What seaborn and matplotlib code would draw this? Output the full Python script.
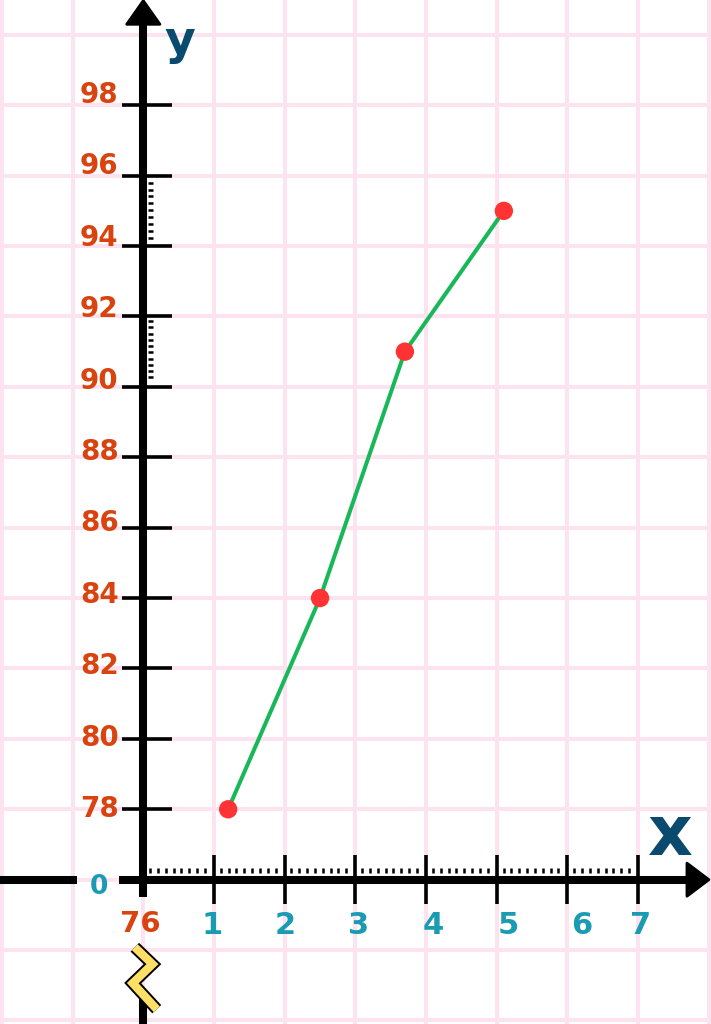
import numpy as np
import pandas as pd
import matplotlib.pyplot as plt
import seaborn as sns
from matplotlib.patches import Polygon

# data
x_vals = [1.2, 2.5, 3.7, 5.1]
y_vals = [78, 84, 91, 95]
x_ticks = [1, 2, 3, 4, 5, 6, 7]
y_ticks = [78, 80, 82, 84, 86, 88, 90, 92, 94, 96, 98]
x_tick_labels = [str(t) for t in x_ticks]
y_tick_labels = [str(t) for t in y_ticks]
origin_x_label = "0"
origin_y_label = "76"
y_origin = 76

df = pd.DataFrame({"x": x_vals, "y": y_vals})

# colours
GRID = "#fde2f0"
RED_TXT = "#d8430f"
TEAL = "#1b9bb3"
NAVY = "#0a4a6e"
GREEN = "#18b85a"
DOT = "#ff3333"
YELLOW = "#ffdf66"

sns.set_theme(style="white")
plt.rcParams["font.family"] = ["DejaVu Sans"]

fig = plt.figure(figsize=(7.11, 10.24), dpi=100)
fig.patch.set_facecolor("white")
ax = fig.add_axes([0, 0, 1, 1])
ax.set_xlim(-2.027, 8.03)
ax.set_ylim(71.9, 100.99)
ax.axis("off")

# pink graph-paper grid
for gx in range(-2, 9):
    ax.axvline(gx, color=GRID, lw=2.8, zorder=0)
for gy in range(72, 101, 2):
    ax.axhline(gy, color=GRID, lw=2.8, zorder=0)

# axes with a break below the origin
axis_kw = dict(color="black", lw=5.8, solid_capstyle="butt", zorder=3)
ax.plot([0, 0], [75.5, 100.35], **axis_kw)
ax.plot([0, 0], [71.8, 72.6], **axis_kw)
ax.plot([-2.1, -0.94], [y_origin, y_origin], **axis_kw)
ax.plot([-0.34, 7.72], [y_origin, y_origin], **axis_kw)
ax.add_patch(Polygon([(-0.235, 100.3), (0, 100.97), (0.235, 100.3)],
                     closed=True, fc="black", ec="black", lw=2, joinstyle="round", zorder=3))
ax.add_patch(Polygon([(7.69, 76.47), (8.0, 76), (7.69, 75.53)],
                     closed=True, fc="black", ec="black", lw=2, joinstyle="round", zorder=3))

# tick marks
ax.hlines(y_ticks, -0.30, 0.41, color="black", lw=2.6, zorder=3)
ax.vlines(x_ticks, 75.3, 76.7, color="black", lw=2.6, zorder=3)

# small dotted ticks
ax.hlines(np.linspace(94.24, 95.8, 9), 0.065, 0.14, color="black", lw=1.8, zorder=3)
ax.hlines(np.linspace(90.27, 91.87, 10), 0.065, 0.14, color="black", lw=1.8, zorder=3)
dot_x = np.concatenate([i + 0.095 + 0.111 * np.arange(8) for i in range(7)])
ax.vlines(dot_x, 76.19, 76.33, color="black", lw=1.8, zorder=3)

# zigzag break symbol
zz_x = [-0.12, 0.13, -0.15, 0.19]
zz_y = [74.08, 73.6, 73.06, 72.32]
ax.plot(zz_x, zz_y, color="black", lw=8.8, solid_joinstyle="miter",
        solid_capstyle="butt", zorder=4)
ax.plot(zz_x, zz_y, color=YELLOW, lw=6.0, solid_joinstyle="miter",
        solid_capstyle="butt", zorder=4)

# data
sns.lineplot(data=df, x="x", y="y", color=GREEN, lw=2.9, ax=ax, zorder=5)
sns.scatterplot(data=df, x="x", y="y", color=DOT, s=175, edgecolor="none",
                ax=ax, zorder=6)
ax.axis("off")

# tick labels
for t, lab in zip(y_ticks, y_tick_labels):
    ax.text(-0.35, t + 0.3 * (t - 78) / 20, lab, ha="right", va="center",
            fontsize=20, fontweight="bold", color=RED_TXT, zorder=7)
x_nudge = [-0.02, 0.0, 0.04, 0.1, 0.16, 0.2, 0.04]
for t, lab, dx in zip(x_ticks, x_tick_labels, x_nudge):
    ax.text(t + dx, 74.7, lab, ha="center", va="center",
            fontsize=22, fontweight="bold", color=TEAL, zorder=7)
ax.text(-0.63, 75.8, origin_x_label, ha="center", va="center",
        fontsize=19, fontweight="bold", color=TEAL, zorder=7)
ax.text(-0.04, 74.75, origin_y_label, ha="center", va="center",
        fontsize=21, fontweight="bold", color=RED_TXT, zorder=7)

# axis names
ax.text(0.52, 99.45, "y", ha="center", va="baseline", fontsize=34,
        fontweight="bold", color=NAVY, zorder=7)
ax.text(7.46, 76.7, "x", ha="center", va="baseline", fontsize=50,
        fontweight="bold", color=NAVY, zorder=7)

fig.savefig("out.png", dpi=100, facecolor="white")
